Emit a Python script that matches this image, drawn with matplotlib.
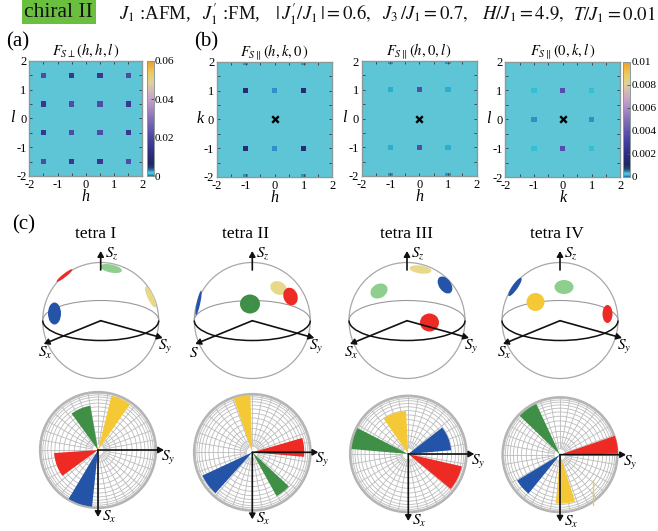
import numpy as np
import matplotlib
matplotlib.use("Agg")
import matplotlib.pyplot as plt
from matplotlib.colors import LinearSegmentedColormap, Normalize
from matplotlib.patches import Ellipse, Circle, Arc, Wedge, Rectangle

plt.rcParams['font.family'] = ['Liberation Serif', 'DejaVu Serif']
plt.rcParams['mathtext.fontset'] = 'stix'
plt.rcParams['axes.unicode_minus'] = False

W, H = 658, 531

# structure factor peaks: h, l (or k), value
a_x = [-1.5, -0.5, 0.5, 1.5] * 4
a_y = [1.5] * 4 + [0.5] * 4 + [-0.5] * 4 + [-1.5] * 4
a_v = [0.021, 0.015, 0.015, 0.021, 0.015, 0.021, 0.021, 0.015,
       0.015, 0.021, 0.021, 0.015, 0.021, 0.015, 0.015, 0.021]

b1_x = [-1, 0, 1, -1, 0, 1, -1, 1, -1, 1]
b1_y = [1, 1, 1, -1, -1, -1, 2, 2, -2, -2]
b1_v = [0.0016, 0.00045, 0.0016, 0.0016, 0.00045, 0.0016, 0.00045, 0.00045, 0.00045, 0.00045]

b2_x = [-1, 0, 1, -1, 0, 1, -1, 1, -1, 1]
b2_y = [1, 1, 1, -1, -1, -1, 2, 2, -2, -2]
b2_v = [0.00015, 0.0036, 0.00015, 0.00015, 0.0036, 0.00015, 0.00045, 0.00045, 0.00045, 0.00045]

b3_x = [-1, 0, 1, -1, 1, -1, 0, 1]
b3_y = [1, 1, 1, 0, 0, -1, -1, -1]
b3_v = [0.00018, 0.0036, 0.00018, 0.00045, 0.00045, 0.00018, 0.0036, 0.00018]

cmap_pos = [0, 0.015, 0.03, 0.045, 0.07, 0.1, 0.18, 0.33, 0.5, 0.66, 0.8, 0.88, 1]
cmap_col = ['#1a70b8', '#30c0d8', '#66c6d6', '#2a88c0', '#26406e', '#1f2a5e', '#2c2a80',
            '#4a45a5', '#8a70b8', '#c8a0cc', '#e0cfa0', '#e8d060', '#f59a20']

tetra_names = ['tetra I', 'tetra II', 'tetra III', 'tetra IV']
tetra_x = [95.3, 246, 406, 556.7]
sphere_cx = [100.7, 252.3, 407, 560]
polar_cx = [98, 252.3, 408.3, 560]
polar_cy = [450, 452.3, 454, 454.7]
polar_r = [58, 58.3, 58.3, 57.5]
Sx_labels = ['$S_x$', '$S$', '$S_x$', '$S_x$']

header_x = [119, 201.7, 275, 381.7, 482, 573]
header_txt = [r"$J_1$ :AFM,", r"$J_1'$ :FM,", r"$|\,J_1'/J_1\,|=0.6,$",
              r"$J_3\,/J_1=0.7,$", r"$H/J_1=4.9,$", r"$T/J_1=0.01$"]

BLUE, RED, GREEN = '#2454a8', '#ee2a24', '#3f8f46'
LGREEN, YELLOW, TAN = '#8ecf8e', '#f5c935', '#e8d98a'

# spin clusters on the sphere: x, y, width, height, angle, colour
clusters = [
    [(111, 268.5, 22, 8, -12, LGREEN), (64.5, 275.5, 20, 3.5, 38, RED),
     (150.5, 297, 23, 6, -65, TAN), (54.5, 313.5, 13, 22, 0, BLUE)],
    [(198.5, 303, 25, 3.5, 78, BLUE), (250, 304, 20, 19, 0, GREEN),
     (278.5, 288, 17, 13, -25, TAN), (290.5, 296.5, 14, 18, 20, RED)],
    [(420.5, 269.5, 22, 8, -8, TAN), (379, 291, 18, 14, 30, LGREEN),
     (445, 285, 12, 19, 35, BLUE), (429.5, 322.5, 19, 18, 0, RED)],
    [(515, 287, 22, 5.5, 55, BLUE), (564, 287, 19, 14, 0, LGREEN),
     (535.5, 302, 18, 18, 0, YELLOW), (607.5, 314, 10, 18, 0, RED)],
]

# fans in the top view: start angle, end angle, radius, colour
fans = [
    [(55, 76, 56, YELLOW), (100, 126, 45, GREEN), (184, 216, 44, RED), (239, 264, 57, BLUE)],
    [(92, 109, 57, YELLOW), (-5, 16, 52, RED), (205, 228, 55, BLUE), (299, 317, 50, GREEN)],
    [(93, 125, 43, YELLOW), (153, 175, 57, GREEN), (5, 38, 43, BLUE), (-39.5, -13, 55, RED)],
    [(115, 136, 56, GREEN), (1, 19, 58, RED), (211, 231, 50, BLUE), (265, 288, 49, YELLOW)],
]

cmap = LinearSegmentedColormap.from_list('fs', list(zip(cmap_pos, cmap_col)))
FRAME = '#8a9a9a'


def px_axes(fig, x0, y0, x1, y1):
    return fig.add_axes([x0 / W, 1 - y1 / H, (x1 - x0) / W, (y1 - y0) / H])


def heat(fig, box, xs, ys, vs, vmax, title, xlabel, ylabel, ticks, cross=True):
    ax = px_axes(fig, *box)
    norm = Normalize(0, vmax)
    ax.set_facecolor(cmap(0.03))
    ax.scatter(xs, ys, c=vs, cmap=cmap, norm=norm, marker='s', s=14, linewidths=0)
    if cross:
        ax.scatter([0], [0], marker='x', c='k', s=22, linewidths=1.7, zorder=4)
    ax.set_xlim(-2, 2)
    ax.set_ylim(-2, 2)
    ax.set_xticks(ticks)
    ax.set_yticks(ticks)
    ax.set_xticks(np.arange(-2, 2.1, 0.5), minor=True)
    ax.set_yticks(np.arange(-2, 2.1, 0.5), minor=True)
    ax.tick_params(which='both', direction='in', top=True, right=True, length=2.5,
                   width=0.7, color='#444444', labelsize=9, pad=2)
    for s in ax.spines.values():
        s.set_color(FRAME)
        s.set_linewidth(1)
    ax.set_title(title, fontsize=10.5, pad=4)
    ax.set_xlabel(xlabel, fontsize=11.5, style='italic', labelpad=-1)
    ax.set_ylabel(ylabel, fontsize=11.5, style='italic', rotation=0, labelpad=3, va='center')
    return ax


def colorbar(fig, box, ticks, labels, vmax):
    cax = px_axes(fig, *box)
    grad = np.linspace(0, 1, 256)[:, None]
    cax.imshow(grad, origin='lower', aspect='auto', cmap=cmap, extent=[0, 1, 0, vmax])
    cax.set_xticks([])
    cax.set_yticks(ticks)
    cax.set_yticklabels(labels)
    cax.yaxis.tick_right()
    cax.tick_params(direction='in', length=2.5, width=0.7, color='#555555', labelsize=8.2, pad=1)
    for s in cax.spines.values():
        s.set_color(FRAME)
        s.set_linewidth(0.7)


fig = plt.figure(figsize=(W / 100, H / 100), dpi=100)

ticks = [-2, -1, 0, 1, 2]
heat(fig, (29.3, 60.7, 142.3, 176), a_x, a_y, a_v, 0.06, r'$F_{S\perp}(h,h,l\,)$', 'h', 'l', ticks, cross=False)
heat(fig, (217, 62, 332.5, 177), b1_x, b1_y, b1_v, 0.01, r'$F_{S\parallel}(h,k,0\,)$', 'h', 'k', ticks)
heat(fig, (361.7, 61, 476.7, 176), b2_x, b2_y, b2_v, 0.01, r'$F_{S\parallel}(h,0,l\,)$', 'h', 'l', ticks)
heat(fig, (505.3, 61.5, 620.3, 177), b3_x, b3_y, b3_v, 0.01, r'$F_{S\parallel}(0,k,l\,)$', 'k', 'l', ticks)
colorbar(fig, (147, 60.7, 153.7, 176), [0, 0.02, 0.04, 0.06], ['0', '0.02', '0.04', '0.06'], 0.06)
colorbar(fig, (623.3, 61.5, 630, 177), [0, 0.002, 0.004, 0.006, 0.008, 0.01],
         ['0', '0.002', '0.004', '0.006', '0.008', '0.01'], 0.01)

# overlay in pixel coordinates for the drawings and free text
ov = fig.add_axes([0, 0, 1, 1], zorder=5)
ov.set_xlim(0, W)
ov.set_ylim(H, 0)
ov.axis('off')
ov.patch.set_alpha(0)

ov.add_patch(Rectangle((21.7, 0), 74.3, 24, color='#6abf3f', lw=0))
ov.text(58.5, 12.5, 'chiral II', fontsize=15.5, ha='center', va='center', color='#111111')
for x, txt in zip(header_x, header_txt):
    ov.text(x, 14.5, txt, fontsize=13.5, ha='left', va='center', color='#111111')
ov.text(6, 42, '(a)', fontsize=15, ha='left', va='center')
ov.text(194, 42, '(b)', fontsize=15, ha='left', va='center')
ov.text(12, 225, '(c)', fontsize=15, ha='left', va='center')


def arrow(x0, y0, x1, y1, lw=1.2):
    ov.annotate('', xy=(x1, y1), xytext=(x0, y0),
                arrowprops=dict(arrowstyle='-|>,head_width=0.18,head_length=0.32', color='#111111',
                                lw=lw, shrinkA=0, shrinkB=0), zorder=8)


CY, R, RY = 320.5, 58, 20
for i, cx in enumerate(sphere_cx):
    ov.text(tetra_x[i], 234, tetra_names[i], fontsize=12.5, ha='center', va='center')
    ov.add_patch(Circle((cx, CY), R, fill=False, ec='#a8a8a8', lw=0.9))
    ov.add_patch(Arc((cx, CY), 2 * R, 2 * RY, theta1=180, theta2=360, ec='#999999', lw=0.8))
    ov.add_patch(Arc((cx, CY), 2 * R, 2 * RY, theta1=0, theta2=180, ec='#111111', lw=1.1))
    for x, y, w, h, ang, col in clusters[i]:
        # angles read in screen terms, the overlay y axis is flipped
        ov.add_patch(Ellipse((x, y), w, h, angle=-ang, color=col, lw=0, zorder=6))
    arrow(cx, 320.7, cx - 57, 344)
    arrow(cx, 320.7, cx + 62, 338)
    arrow(cx, 270, cx, 251)
    ov.text(cx + 4, 253, '$S_z$', fontsize=11, ha='left', va='center', zorder=9)
    ov.text(cx + 57, 347, '$S_y$', fontsize=11, ha='left', va='center', zorder=9)
    ov.text(cx - 63, 353, Sx_labels[i], fontsize=11, ha='left', va='center', zorder=9)

for i, cx in enumerate(polar_cx):
    cy, r = polar_cy[i], polar_r[i]
    for deg in np.arange(6, 90, 6):
        ov.add_patch(Circle((cx, cy), r * np.sin(np.radians(deg)), fill=False, ec='#bcbcbc', lw=0.6))
    for deg in np.arange(0, 360, 10):
        t = np.radians(deg)
        ov.plot([cx + 0.12 * r * np.cos(t), cx + r * np.cos(t)],
                [cy - 0.12 * r * np.sin(t), cy - r * np.sin(t)], color='#bcbcbc', lw=0.6)
    ov.add_patch(Circle((cx, cy), r, fill=False, ec='#b4b4b4', lw=1.6))
    for a0, a1, rad, col in fans[i]:
        # y axis is flipped on the overlay, so the angles change sign
        ov.add_patch(Wedge((cx, cy), rad, -a1, -a0, color=col, lw=0, zorder=6))
    arrow(cx, cy, cx + 66, cy)
    arrow(cx, cy, cx, cy + 67)
    ov.text(cx + 63, cy + 8, '$S_y$', fontsize=11, ha='left', va='center', zorder=9)
    ov.text(cx + 4, cy + 67, '$S_x$', fontsize=11, ha='left', va='center', zorder=9)

# stray yellow streak in the last top view
ov.plot([593.3, 593.3], [480, 505], color=YELLOW, lw=0.9, zorder=6)

fig.savefig('out.png', dpi=100)
